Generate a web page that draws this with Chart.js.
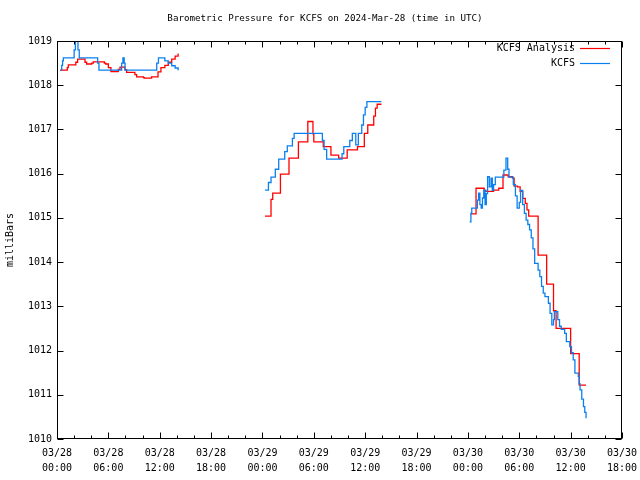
<!DOCTYPE html>
<html>
<head>
<meta charset="utf-8">
<script src="https://cdn.jsdelivr.net/npm/chart.js@4/dist/chart.umd.min.js"></script>
<style>
  html, body { margin: 0; padding: 0; background: #fff; }
  #wrap { width: 640px; height: 480px; }
</style>
</head>
<body>
<div id="wrap"><canvas id="pressureChart" width="640" height="480"></canvas></div>
<script>
// x = hours since 2024-03-28 00:00 UTC, y = millibars
const chartTitle = 'Barometric Pressure for KCFS on 2024-Mar-28 (time in UTC)';
const tickDates = ['03/28', '03/28', '03/28', '03/28', '03/29', '03/29', '03/29', '03/29', '03/30', '03/30', '03/30', '03/30'];
const tickTimes = ['00:00', '06:00', '12:00', '18:00', '00:00', '06:00', '12:00', '18:00', '00:00', '06:00', '12:00', '18:00'];

// KCFS Analysis (red)
const analysisPart1 = [
  [0.35, 1018.34], [1.2, 1018.40], [1.32, 1018.46], [2.2, 1018.52], [2.41, 1018.59], [3.27, 1018.52],
  [3.46, 1018.48], [4.05, 1018.50], [4.24, 1018.53], [5.53, 1018.50], [5.69, 1018.48], [6.0, 1018.40],
  [6.3, 1018.31], [7.16, 1018.36], [7.36, 1018.41], [7.94, 1018.35], [8.13, 1018.29], [9.1, 1018.24],
  [9.3, 1018.19], [10.1, 1018.17], [10.2, 1018.16], [11.05, 1018.19], [11.8, 1018.30], [12.14, 1018.40],
  [12.6, 1018.45], [13.0, 1018.52], [13.4, 1018.59], [13.8, 1018.66], [14.15, 1018.72]
];
const analysisPart2 = [
  [24.3, 1015.04], [25.0, 1015.42], [25.2, 1015.56], [26.1, 1015.99], [27.1, 1016.35], [28.2, 1016.72],
  [29.3, 1017.18], [29.9, 1016.90], [30.0, 1016.72], [31.1, 1016.61], [32.0, 1016.42], [32.9, 1016.35],
  [33.9, 1016.54], [35.1, 1016.61], [35.9, 1016.91], [36.3, 1017.10], [37.0, 1017.30], [37.2, 1017.48],
  [37.4, 1017.57], [37.9, 1017.57]
];
const analysisPart3 = [
  [48.3, 1015.09], [48.95, 1015.67], [49.9, 1015.62], [50.1, 1015.60], [51.0, 1015.63], [51.6, 1015.67],
  [52.1, 1015.97], [52.7, 1015.93], [53.2, 1015.90], [53.4, 1015.72], [53.8, 1015.70], [54.1, 1015.60],
  [54.4, 1015.44], [54.7, 1015.33], [54.9, 1015.18], [55.1, 1015.04], [56.2, 1014.16], [57.2, 1013.50],
  [58.0, 1012.90], [58.3, 1012.50], [60.0, 1011.93], [61.0, 1011.22], [61.8, 1011.22]
];

// KCFS observations (blue)
const kcfsPart1 = [
  [0.43, 1018.34], [0.55, 1018.45], [0.65, 1018.55], [0.74, 1018.62], [2.0, 1018.80], [2.15, 1019.00],
  [2.45, 1018.80], [2.6, 1018.62], [4.75, 1018.50], [4.9, 1018.34], [7.55, 1018.50], [7.7, 1018.62],
  [7.85, 1018.50], [7.95, 1018.34], [11.65, 1018.50], [11.85, 1018.62], [12.6, 1018.55], [13.0, 1018.50],
  [13.4, 1018.44], [13.8, 1018.39], [14.15, 1018.34]
];
const kcfsPart2 = [
  [24.3, 1015.63], [24.7, 1015.80], [25.0, 1015.92], [25.5, 1016.10], [25.9, 1016.33], [26.6, 1016.50],
  [26.9, 1016.63], [27.5, 1016.80], [27.7, 1016.91], [31.0, 1016.75], [31.2, 1016.55], [31.5, 1016.33],
  [33.3, 1016.45], [33.5, 1016.61], [34.2, 1016.75], [34.5, 1016.91], [34.9, 1016.65], [35.2, 1016.91],
  [35.6, 1017.10], [35.8, 1017.33], [36.0, 1017.50], [36.2, 1017.63], [37.9, 1017.63]
];
const kcfsPart3 = [
  [48.2, 1014.91], [48.35, 1015.10], [48.45, 1015.22], [49.1, 1015.40], [49.25, 1015.56], [49.4, 1015.30],
  [49.55, 1015.22], [49.7, 1015.45], [49.85, 1015.63], [50.0, 1015.30], [50.15, 1015.55], [50.3, 1015.93],
  [50.5, 1015.70], [50.7, 1015.90], [50.85, 1015.62], [51.0, 1015.75], [51.2, 1015.92], [52.2, 1016.08],
  [52.45, 1016.35], [52.65, 1016.10], [52.8, 1015.92], [53.3, 1015.75], [53.55, 1015.50], [53.75, 1015.22],
  [54.0, 1015.35], [54.15, 1015.62], [54.4, 1015.30], [54.6, 1015.10], [54.8, 1014.95], [55.0, 1014.85],
  [55.2, 1014.73], [55.4, 1014.55], [55.6, 1014.30], [55.8, 1013.97], [56.2, 1013.82], [56.4, 1013.67],
  [56.6, 1013.45], [56.8, 1013.30], [57.0, 1013.22], [57.4, 1013.07], [57.6, 1012.84], [57.8, 1012.58],
  [58.0, 1012.70], [58.1, 1012.88], [58.5, 1012.70], [58.7, 1012.55], [58.9, 1012.48], [59.3, 1012.39],
  [59.5, 1012.20], [59.9, 1012.09], [60.1, 1011.95], [60.3, 1011.79], [60.5, 1011.49], [60.9, 1011.41],
  [61.0, 1011.25], [61.1, 1011.11], [61.3, 1010.90], [61.5, 1010.73], [61.65, 1010.60], [61.8, 1010.47]
];

const FONT = "'DejaVu Sans Mono', 'Liberation Mono', monospace";

// join the pieces with a null point so the gaps stay open
function joinParts(parts) {
  const out = [];
  parts.forEach((part, i) => {
    if (i > 0) out.push({ x: part[0][0] - 0.01, y: null });
    part.forEach(p => out.push({ x: p[0], y: p[1] }));
  });
  return out;
}

// gnuplot style frame: box plus inward tics on all four sides, title and key
const framePlugin = {
  id: 'frame',
  afterDatasetsDraw(chart) {
    const { ctx, chartArea: a, scales } = chart;
    const L = Math.round(a.left) + 0.5, R = Math.round(a.right) - 0.5;
    const T = Math.round(a.top) + 0.5, B = Math.round(a.bottom) - 0.5;
    ctx.save();
    ctx.strokeStyle = '#000';
    ctx.lineWidth = 1;
    ctx.beginPath();
    for (let h = 0; h <= 66; h += 2) {
      const x = Math.round(scales.x.getPixelForValue(h)) + 0.5;
      const len = h % 6 === 0 ? 6 : 3;
      ctx.moveTo(x, B); ctx.lineTo(x, B - len);
      ctx.moveTo(x, T); ctx.lineTo(x, T + len);
    }
    for (let v = 1010; v <= 1019; v++) {
      const y = Math.round(scales.y.getPixelForValue(v)) + 0.5;
      ctx.moveTo(L, y); ctx.lineTo(L + 6, y);
      ctx.moveTo(R, y); ctx.lineTo(R - 6, y);
    }
    ctx.stroke();
    ctx.strokeRect(L, T, R - L, B - T);

    ctx.fillStyle = '#000';
    ctx.textBaseline = 'middle';
    ctx.textAlign = 'center';
    ctx.font = '9.2px ' + FONT;
    ctx.fillText(chartTitle, 325, 19);

    // key
    ctx.font = '10px ' + FONT;
    ctx.textAlign = 'right';
    chart.data.datasets.forEach((ds, i) => {
      const y = 48 + i * 15;
      ctx.fillText(ds.label, 575, y);
      ctx.strokeStyle = ds.borderColor;
      ctx.lineWidth = 1.2;
      ctx.beginPath();
      ctx.moveTo(580, y + 0.5);
      ctx.lineTo(610, y + 0.5);
      ctx.stroke();
    });
    ctx.restore();
  }
};

const ctx = document.getElementById('pressureChart').getContext('2d');
new Chart(ctx, {
  type: 'line',
  data: {
    datasets: [
      {
        label: 'KCFS Analysis',
        data: joinParts([analysisPart1, analysisPart2, analysisPart3]),
        borderColor: '#ff0000',
        borderWidth: 1.3,
        pointRadius: 0,
        stepped: true,
        spanGaps: false,
        order: 2
      },
      {
        label: 'KCFS',
        data: joinParts([kcfsPart1, kcfsPart2, kcfsPart3]),
        borderColor: '#0a80f0',
        borderWidth: 1.3,
        pointRadius: 0,
        stepped: true,
        spanGaps: false,
        order: 1
      }
    ]
  },
  options: {
    responsive: false,
    animation: false,
    layout: { padding: { left: 0, right: 18, top: 41, bottom: 0 } },
    plugins: {
      legend: { display: false },
      tooltip: { enabled: false },
      title: { display: false }
    },
    scales: {
      x: {
        type: 'linear',
        min: 0,
        max: 66,
        grid: { display: false, drawTicks: false },
        border: { display: false },
        afterFit: scale => {
          scale.height = 41;
          scale.paddingLeft = 0;
          scale.paddingRight = 0;
        },
        ticks: {
          stepSize: 6,
          autoSkip: false,
          maxRotation: 0,
          padding: 7,
          color: '#000',
          font: { family: FONT, size: 10, lineHeight: 1.5 },
          callback: value => {
            const i = Math.round(value / 6);
            return [tickDates[i], tickTimes[i]];
          }
        }
      },
      y: {
        min: 1010,
        max: 1019,
        grid: { display: false, drawTicks: false },
        border: { display: false },
        afterFit: scale => {
          scale.width = 57;
          scale.paddingTop = 0;
          scale.paddingBottom = 0;
        },
        title: {
          display: true,
          text: 'milliBars',
          color: '#000',
          font: { family: FONT, size: 10, lineHeight: 1.2 },
          padding: { top: 4, bottom: 0 }
        },
        ticks: {
          stepSize: 1,
          padding: 5,
          color: '#000',
          font: { family: FONT, size: 10 },
          callback: value => String(value)
        }
      }
    }
  },
  plugins: [framePlugin]
});
</script>
</body>
</html>
